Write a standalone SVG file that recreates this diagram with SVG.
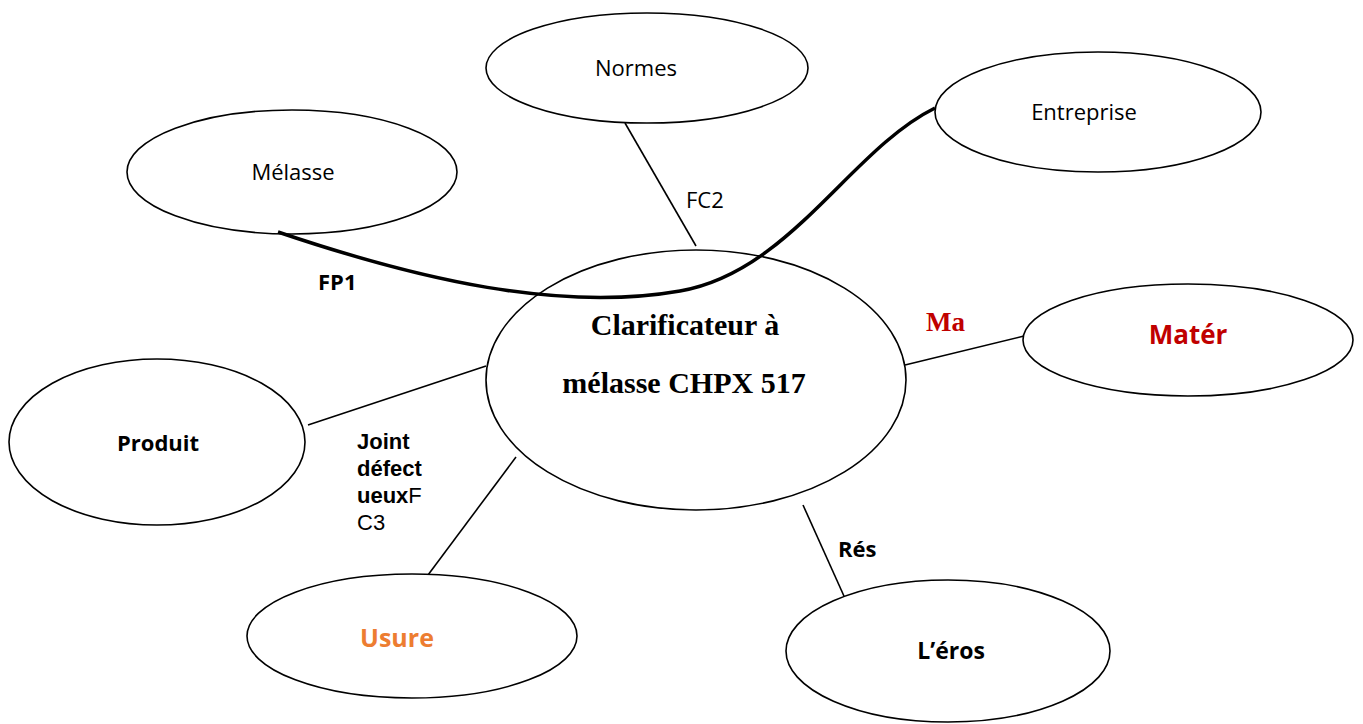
<svg xmlns="http://www.w3.org/2000/svg" width="1363" height="724" viewBox="0 0 1363 724">
<style>
.node{fill:#fff;stroke:#000;stroke-width:1.6}
.t{font-family:"Open Sans","Noto Sans","Liberation Sans",sans-serif;font-size:22px;fill:#000}
.j{font-family:"Liberation Sans","Arial",sans-serif;font-size:22px;fill:#000}
.b{font-weight:bold}
.serif{font-family:"Liberation Serif","DejaVu Serif",serif;font-weight:bold;font-size:30px;fill:#000}
.ln{stroke:#000;stroke-width:1.6;fill:none}
</style>
<rect width="1363" height="724" fill="#fff"/>
<g id="connectors">
<line class="ln" x1="625" y1="123" x2="696" y2="246"/>
<line class="ln" x1="308" y1="425" x2="486" y2="366"/>
<line class="ln" x1="905" y1="365" x2="1024" y2="336"/>
<line class="ln" x1="428" y1="575" x2="516" y2="457"/>
<line class="ln" x1="803" y1="505" x2="848" y2="605"/>
</g>
<g id="normes"><ellipse class="node" cx="647" cy="68" rx="161" ry="55"/><text class="t" x="636" y="76" text-anchor="middle">Normes</text></g>
<g id="entreprise"><ellipse class="node" cx="1098" cy="112" rx="163" ry="60"/><text class="t" x="1084" y="120" text-anchor="middle">Entreprise</text></g>
<g id="melasse"><ellipse class="node" cx="292" cy="172" rx="165" ry="62"/><text class="t" x="293" y="180" text-anchor="middle">Mélasse</text></g>
<g id="central"><ellipse class="node" cx="696" cy="380" rx="210" ry="130"/>
<text class="serif" x="685" y="335" text-anchor="middle">Clarificateur à</text>
<text class="serif" x="684" y="393" text-anchor="middle">mélasse CHPX 517</text></g>
<g id="materiel"><ellipse class="node" cx="1188" cy="340" rx="165" ry="56"/><text class="t b" x="1188" y="344" text-anchor="middle" style="fill:#c00000;font-size:26px">Matér</text></g>
<g id="produit"><ellipse class="node" cx="157" cy="442" rx="148" ry="83"/><text class="t b" x="158" y="451" text-anchor="middle">Produit</text></g>
<g id="usure"><ellipse class="node" cx="412" cy="636" rx="165" ry="62"/><text class="t b" x="397" y="647" text-anchor="middle" style="fill:#ed7d31;font-size:25px">Usure</text></g>
<g id="erosion"><ellipse class="node" cx="948" cy="651" rx="162" ry="71"/><text class="t b" x="951" y="659" text-anchor="middle" style="font-size:23px">L’éros</text></g>
<g id="fp1"><path d="M278,232 C420,280 560,312 680,291 C790,272 850,150 935,108" fill="none" stroke="#000" stroke-width="3.5"/>
<text class="t b" x="318" y="290">FP1</text></g>
<g id="labels">
<text class="t" x="686" y="208">FC2</text>
<text class="serif" x="926" y="331" style="fill:#c00000;font-size:27px">Ma</text>
<text class="j b" x="357" y="449">Joint</text>
<text class="j b" x="357" y="476">défect</text>
<text class="j" x="357" y="503"><tspan class="b">ueux</tspan>F</text>
<text class="j" x="357" y="530">C3</text>
<text class="t b" x="838" y="557">Rés</text>
</g>
</svg>
